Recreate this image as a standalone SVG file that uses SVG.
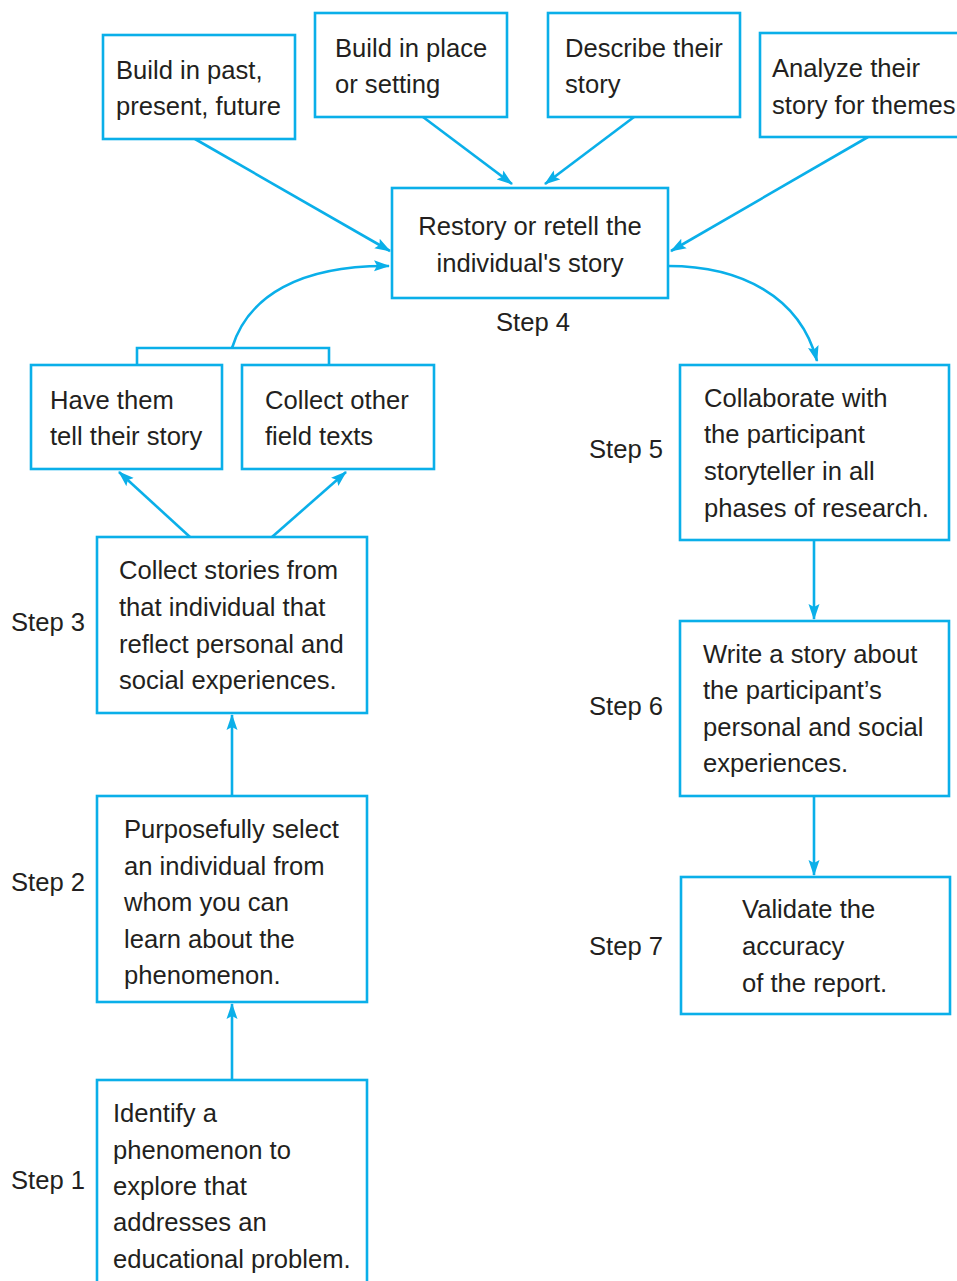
<svg xmlns="http://www.w3.org/2000/svg" width="957" height="1281" viewBox="0 0 957 1281">
  <style>
    .box { fill: #ffffff; stroke: #0aafe9; stroke-width: 2.6; }
    .lbl { font-family: "Liberation Sans", Arial, sans-serif; font-size: 25.6px; fill: #231f20; }
    .mid { text-anchor: middle; }
    .link { fill: none; stroke: #0aafe9; stroke-width: 2.6; }
  </style>
  <defs>
    <marker id="arrow" markerUnits="userSpaceOnUse" markerWidth="17" markerHeight="12" refX="15" refY="6" orient="auto">
      <path d="M0,0.5 L16,6 L0,11.5 L3,6 Z" fill="#0aafe9"/>
    </marker>
  </defs>

  <rect width="957" height="1281" fill="#ffffff"/>

  <!-- connectors -->
  <g id="connectors">
    <line class="link" x1="195" y1="139" x2="390" y2="251" marker-end="url(#arrow)"/>
    <line class="link" x1="423" y1="117" x2="512" y2="184" marker-end="url(#arrow)"/>
    <line class="link" x1="634" y1="117" x2="545" y2="184" marker-end="url(#arrow)"/>
    <line class="link" x1="868" y1="137" x2="671" y2="251" marker-end="url(#arrow)"/>
    <polyline class="link" points="137,365 137,348 329,348 329,365"/>
    <path class="link" d="M232,348 C248,296 300,265 389,266" marker-end="url(#arrow)"/>
    <path class="link" d="M668,266 C740,266 800,296 817,361" marker-end="url(#arrow)"/>
    <line class="link" x1="190" y1="537" x2="119" y2="472" marker-end="url(#arrow)"/>
    <line class="link" x1="272" y1="537" x2="346" y2="472" marker-end="url(#arrow)"/>
    <line class="link" x1="232" y1="796" x2="232" y2="715" marker-end="url(#arrow)"/>
    <line class="link" x1="232" y1="1080" x2="232" y2="1004" marker-end="url(#arrow)"/>
    <line class="link" x1="814" y1="540" x2="814" y2="619" marker-end="url(#arrow)"/>
    <line class="link" x1="814" y1="796" x2="814" y2="875" marker-end="url(#arrow)"/>
  </g>

  <!-- top row -->
  <g id="past-present-future">
    <rect class="box" x="103" y="35" width="192" height="104"/>
    <text class="lbl" x="116" y="79">Build in past,</text>
    <text class="lbl" x="116" y="115">present, future</text>
  </g>
  <g id="place-setting">
    <rect class="box" x="315" y="13" width="192" height="104"/>
    <text class="lbl" x="335" y="57">Build in place</text>
    <text class="lbl" x="335" y="93">or setting</text>
  </g>
  <g id="describe-story">
    <rect class="box" x="548" y="13" width="192" height="104"/>
    <text class="lbl" x="565" y="57">Describe their</text>
    <text class="lbl" x="565" y="93">story</text>
  </g>
  <g id="analyze-themes">
    <rect class="box" x="760" y="33" width="240" height="104"/>
    <text class="lbl" x="772" y="77">Analyze their</text>
    <text class="lbl" x="772" y="114">story for themes</text>
  </g>

  <!-- step 4 -->
  <g id="restory">
    <rect class="box" x="392" y="188" width="276" height="110"/>
    <text class="lbl mid" x="530" y="235">Restory or retell the</text>
    <text class="lbl mid" x="530" y="272">individual's story</text>
    <text class="lbl mid" x="533" y="331">Step 4</text>
  </g>

  <!-- field texts -->
  <g id="tell-story">
    <rect class="box" x="31" y="365" width="191" height="104"/>
    <text class="lbl" x="50" y="409">Have them</text>
    <text class="lbl" x="50" y="445">tell their story</text>
  </g>
  <g id="field-texts">
    <rect class="box" x="242" y="365" width="192" height="104"/>
    <text class="lbl" x="265" y="409">Collect other</text>
    <text class="lbl" x="265" y="445">field texts</text>
  </g>

  <!-- left column -->
  <g id="step3">
    <rect class="box" x="97" y="537" width="270" height="176"/>
    <text class="lbl" x="119" y="579">Collect stories from</text>
    <text class="lbl" x="119" y="616">that individual that</text>
    <text class="lbl" x="119" y="653">reflect personal and</text>
    <text class="lbl" x="119" y="689">social experiences.</text>
    <text class="lbl" x="11" y="631">Step 3</text>
  </g>
  <g id="step2">
    <rect class="box" x="97" y="796" width="270" height="206"/>
    <text class="lbl" x="124" y="838">Purposefully select</text>
    <text class="lbl" x="124" y="875">an individual from</text>
    <text class="lbl" x="124" y="911">whom you can</text>
    <text class="lbl" x="124" y="948">learn about the</text>
    <text class="lbl" x="124" y="984">phenomenon.</text>
    <text class="lbl" x="11" y="891">Step 2</text>
  </g>
  <g id="step1">
    <rect class="box" x="97" y="1080" width="270" height="230"/>
    <text class="lbl" x="113" y="1122">Identify a</text>
    <text class="lbl" x="113" y="1159">phenomenon to</text>
    <text class="lbl" x="113" y="1195">explore that</text>
    <text class="lbl" x="113" y="1231">addresses an</text>
    <text class="lbl" x="113" y="1268">educational problem.</text>
    <text class="lbl" x="11" y="1189">Step 1</text>
  </g>

  <!-- right column -->
  <g id="step5">
    <rect class="box" x="680" y="365" width="269" height="175"/>
    <text class="lbl" x="704" y="407">Collaborate with</text>
    <text class="lbl" x="704" y="443">the participant</text>
    <text class="lbl" x="704" y="480">storyteller in all</text>
    <text class="lbl" x="704" y="517">phases of research.</text>
    <text class="lbl" x="589" y="458">Step 5</text>
  </g>
  <g id="step6">
    <rect class="box" x="680" y="621" width="269" height="175"/>
    <text class="lbl" x="703" y="663">Write a story about</text>
    <text class="lbl" x="703" y="699">the participant’s</text>
    <text class="lbl" x="703" y="736">personal and social</text>
    <text class="lbl" x="703" y="772">experiences.</text>
    <text class="lbl" x="589" y="715">Step 6</text>
  </g>
  <g id="step7">
    <rect class="box" x="681" y="877" width="269" height="137"/>
    <text class="lbl" x="742" y="918">Validate the</text>
    <text class="lbl" x="742" y="955">accuracy</text>
    <text class="lbl" x="742" y="992">of the report.</text>
    <text class="lbl" x="589" y="955">Step 7</text>
  </g>
</svg>
